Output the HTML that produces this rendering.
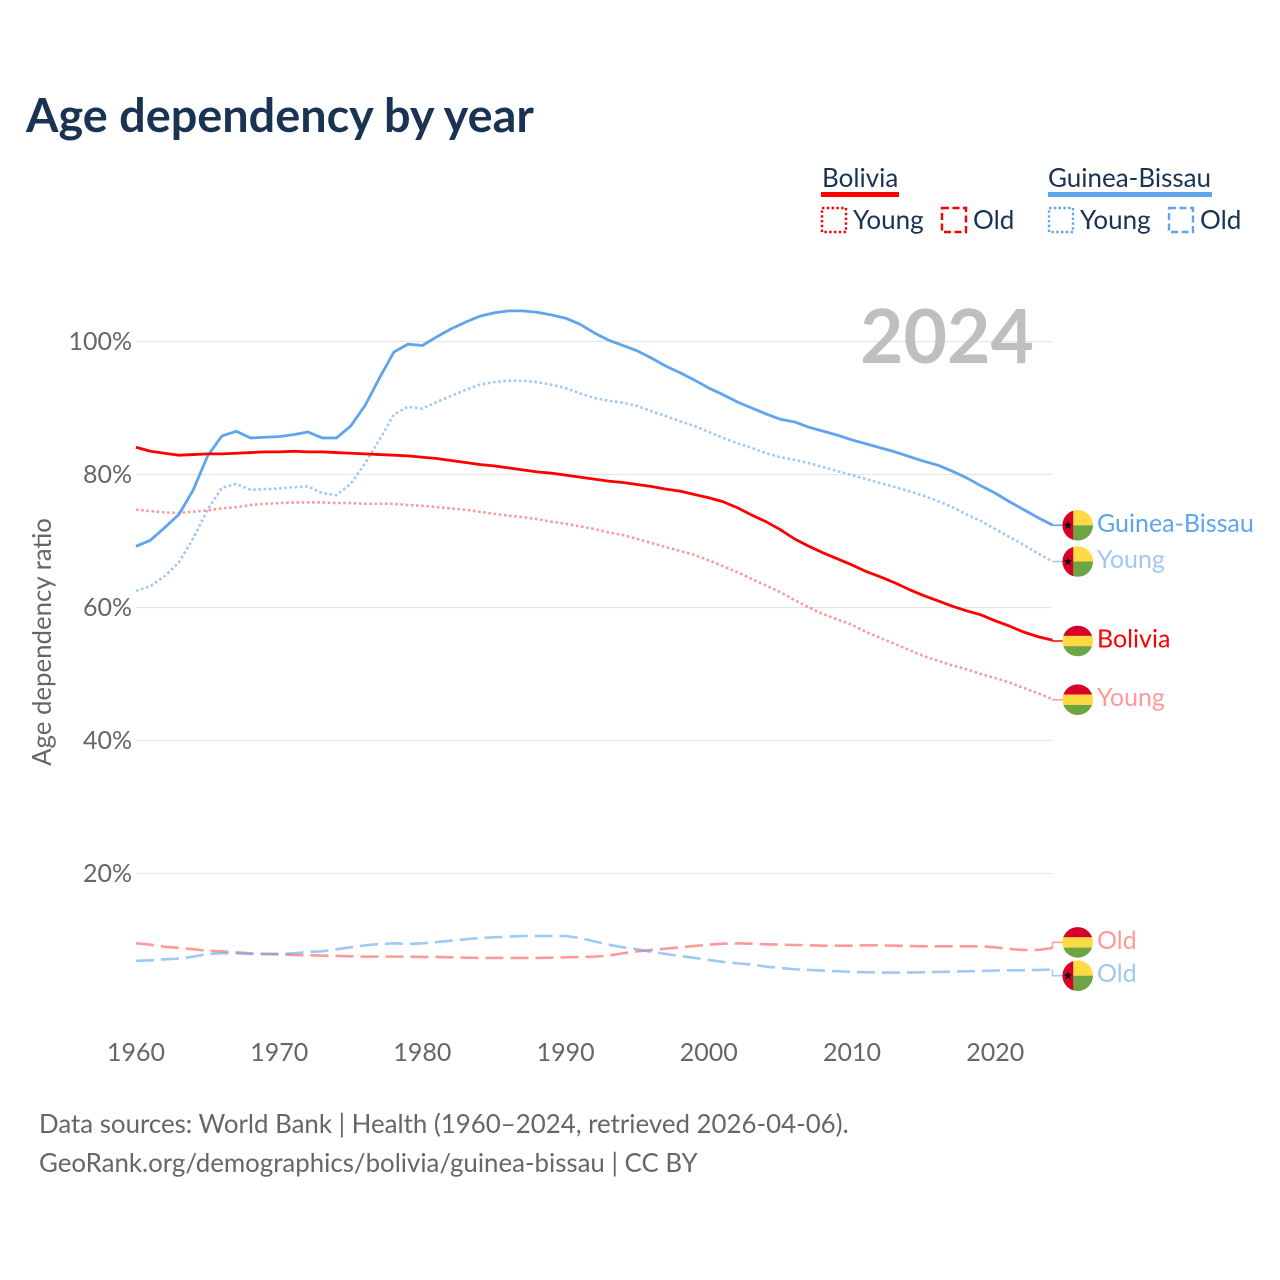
<!DOCTYPE html>
<html lang="en">
<head>
<meta charset="utf-8">
<title>Age dependency by year</title>
<style>
html,body{margin:0;padding:0;background:#fff;width:1280px;height:1280px;overflow:hidden}
svg{display:block;position:absolute;left:0;top:0}
text{font-family:"Lato","Carlito","Liberation Sans",sans-serif}
.t{position:absolute;white-space:nowrap;font-family:"Lato","Carlito","Liberation Sans",sans-serif;line-height:1.2;font-size:26px;color:#1a3353}
.g{color:#666666;font-size:25.85px}
</style>
</head>
<body>
<svg id="chart" xmlns="http://www.w3.org/2000/svg" width="1280" height="1280" viewBox="0 0 1280 1280">
  <g>
    <rect x="821" y="192" width="78" height="5" fill="#ff0000"/>
    <rect x="822" y="208" width="24" height="24" fill="none" stroke="#ff0000" stroke-width="2.4" stroke-dasharray="2.4 2.4"/>
    <rect x="942" y="208" width="24" height="24" fill="none" stroke="#ff0000" stroke-width="2.4" stroke-dasharray="7 3.5"/>
    <rect x="1048" y="192" width="164" height="5" fill="#5fa5ee"/>
    <rect x="1049" y="208" width="24" height="24" fill="none" stroke="#5fa5ee" stroke-width="2.4" stroke-dasharray="2.4 2.4"/>
    <rect x="1169" y="208" width="24" height="24" fill="none" stroke="#5fa5ee" stroke-width="2.4" stroke-dasharray="7 3.5"/>
  </g>

  <g id="grid"></g>
  <g id="yticks"></g>
  <g id="xticks"></g>

  <text transform="translate(51 642) rotate(-90)" text-anchor="middle" font-size="25.8" fill="#666666">Age dependency ratio</text>

  <text x="860" y="363" font-size="75" font-weight="700" fill="#bfbfbf">2024</text>

  <g id="series"></g>
  <g id="ends"></g>
</svg>

<div class="t" style="left:26px;top:86px;font-size:46.8px;font-weight:700">Age dependency by year</div>
<div class="t" style="left:822px;top:162px">Bolivia</div>
<div class="t" style="left:853px;top:204px">Young</div>
<div class="t" style="left:973px;top:204px">Old</div>
<div class="t" style="left:1048px;top:162px">Guinea-Bissau</div>
<div class="t" style="left:1080px;top:204px">Young</div>
<div class="t" style="left:1200px;top:204px">Old</div>
<div class="t g" style="left:39px;top:1108px">Data sources: World Bank | Health (1960–2024, retrieved 2026-04-06).</div>
<div class="t g" style="left:39px;top:1147px">GeoRank.org/demographics/bolivia/guinea-bissau | CC BY</div>

<script>
const startYear = 1960;
const xTickYears = [1960, 1970, 1980, 1990, 2000, 2010, 2020];
const yTickValues = [20, 40, 60, 80, 100];

const boliviaTotal = [84.1,83.5,83.2,82.9,83.0,83.1,83.1,83.2,83.3,83.4,83.4,83.5,83.4,83.4,83.3,83.2,83.1,83.0,82.9,82.8,82.6,82.4,82.1,81.8,81.5,81.3,81.0,80.7,80.4,80.2,79.9,79.6,79.3,79.0,78.8,78.5,78.2,77.8,77.5,77.0,76.5,75.9,75.0,73.9,72.9,71.7,70.3,69.2,68.2,67.3,66.4,65.4,64.6,63.7,62.7,61.8,61.0,60.2,59.5,58.9,58.0,57.2,56.3,55.6,55.1];
const boliviaYoung = [74.7,74.5,74.3,74.2,74.4,74.6,74.9,75.1,75.4,75.6,75.7,75.8,75.8,75.8,75.7,75.7,75.6,75.6,75.6,75.4,75.3,75.1,74.9,74.7,74.4,74.1,73.8,73.6,73.3,72.9,72.6,72.2,71.8,71.3,70.9,70.3,69.7,69.1,68.5,67.9,67.1,66.2,65.3,64.3,63.3,62.3,61.1,60.0,59.0,58.2,57.4,56.3,55.4,54.5,53.6,52.7,52.0,51.3,50.7,50.0,49.4,48.7,47.9,47.1,46.2];
const boliviaOld = [9.5,9.3,9.0,8.8,8.6,8.4,8.3,8.15,8.0,7.9,7.85,7.75,7.7,7.65,7.6,7.55,7.5,7.5,7.5,7.5,7.45,7.45,7.4,7.35,7.3,7.3,7.3,7.3,7.3,7.35,7.4,7.45,7.5,7.65,8.0,8.3,8.5,8.7,8.9,9.1,9.3,9.45,9.5,9.45,9.35,9.3,9.25,9.2,9.15,9.15,9.15,9.2,9.2,9.15,9.1,9.05,9.05,9.05,9.05,9.05,8.9,8.65,8.5,8.5,8.8];

const guineaTotal = [69.2,70.1,72.0,74.0,77.7,82.8,85.8,86.5,85.5,85.6,85.7,86.0,86.4,85.5,85.5,87.3,90.4,94.5,98.4,99.6,99.4,100.7,101.9,102.9,103.8,104.3,104.6,104.6,104.4,104.0,103.5,102.6,101.3,100.2,99.4,98.6,97.5,96.3,95.3,94.2,93.0,92.0,90.9,90.0,89.1,88.3,87.9,87.1,86.5,85.9,85.2,84.6,84.0,83.4,82.7,82.0,81.4,80.5,79.5,78.3,77.2,75.9,74.7,73.5,72.4];
const guineaYoung = [62.5,63.2,64.7,66.8,70.4,74.7,78.0,78.6,77.7,77.8,77.9,78.1,78.2,77.2,76.9,78.6,81.7,85.2,89.0,90.2,89.9,90.9,91.8,92.7,93.5,93.9,94.1,94.1,93.9,93.5,93.0,92.2,91.5,91.1,90.8,90.3,89.5,88.8,88.0,87.3,86.4,85.5,84.7,84.0,83.2,82.6,82.2,81.7,81.1,80.5,79.9,79.3,78.7,78.1,77.5,76.8,76.0,75.1,74.0,73.0,71.8,70.6,69.4,68.1,66.9];
const guineaOld = [6.85,6.95,7.1,7.2,7.5,7.9,8.0,8.0,7.9,7.9,7.9,8.0,8.2,8.3,8.6,8.9,9.2,9.4,9.5,9.4,9.5,9.7,9.9,10.1,10.3,10.4,10.5,10.6,10.6,10.6,10.6,10.3,9.8,9.3,8.9,8.6,8.2,7.9,7.6,7.3,7.0,6.7,6.5,6.3,6.0,5.8,5.6,5.5,5.4,5.3,5.2,5.15,5.1,5.1,5.1,5.15,5.2,5.25,5.3,5.35,5.4,5.45,5.45,5.5,5.55];

const NS = 'http://www.w3.org/2000/svg';
function xScale(year) { return 136 + (year - 1960) * 14.32; }
function yScale(pct) { return 1006.5 - pct * 6.65; }
function make(tag, attrs, parent) {
  const el = document.createElementNS(NS, tag);
  for (const k in attrs) el.setAttribute(k, attrs[k]);
  parent.appendChild(el);
  return el;
}

const gridG = document.getElementById('grid');
const yG = document.getElementById('yticks');
const xG = document.getElementById('xticks');
const seriesG = document.getElementById('series');
const endsG = document.getElementById('ends');

yTickValues.forEach(function (v) {
  const line = make('line', { x1: 136, x2: 1052, y1: yScale(v), y2: yScale(v), stroke: '#e5e5e5', 'stroke-width': 1.3 }, gridG);
  
  
  const label = make('text', { x: 132, y: yScale(v) + 8.5, 'text-anchor': 'end', 'font-size': 25, fill: '#666666' }, yG);
  
  
  label.textContent = v + '%';
});

xTickYears.forEach(function (yr) {
  const label = make('text', { x: xScale(yr), y: 1061, 'text-anchor': 'middle', 'font-size': 25, fill: '#666666' }, xG);
  
  
  label.textContent = yr;
});

function drawSeries(name, values, color, opacity, dash, width) {
  const d = values.map(function (v, i) {
    return (i ? 'L' : 'M') + xScale(startYear + i).toFixed(2) + ' ' + yScale(v).toFixed(2);
  }).join(' ');
  const path = make('path', { d: d, fill: 'none', stroke: color, 'stroke-opacity': opacity, 'stroke-width': width, 'stroke-dasharray': dash, 'stroke-linejoin': 'round' }, seriesG);
  
  
}

let clipCount = 0;
function drawFlag(country, cy, parent) {
  const cx = 1077.7;
  const id = 'flag-clip-' + (clipCount++);
  const cp = make('clipPath', { id: id }, parent);
  make('circle', { cx: cx, cy: cy, r: 15.3 }, cp);
  const g = make('g', { 'clip-path': 'url(#' + id + ')' }, parent);
  
  
  if (country === 'bolivia') {
    make('rect', { x: cx - 16, y: cy - 16, width: 32, height: 11, fill: '#d80027' }, g);
    make('rect', { x: cx - 16, y: cy - 5.2, width: 32, height: 10.4, fill: '#ffda44' }, g);
    make('rect', { x: cx - 16, y: cy + 5.2, width: 32, height: 11, fill: '#6da544' }, g);
  } else {
    make('rect', { x: cx - 5, y: cy - 16, width: 21, height: 16, fill: '#ffda44' }, g);
    make('rect', { x: cx - 5, y: cy, width: 21, height: 16, fill: '#6da544' }, g);
    make('rect', { x: cx - 16, y: cy - 16, width: 11.5, height: 32, fill: '#d80027' }, g);
    const s = cx - 9.7;
    const t = cy;
    make('polygon', { points: [[0,-4.5],[1.2,-1.4],[4.3,-1.4],[1.8,0.6],[2.7,3.8],[0,2],[-2.7,3.8],[-1.8,0.6],[-4.3,-1.4],[-1.2,-1.4]].map(function (p) { return (s + p[0]) + ',' + (t + p[1]); }).join(' '), fill: '#111111' }, g);
  }
}

function drawEnd(name, country, text, values, color, opacity, labelY) {
  const last = values[values.length - 1];
  const x0 = xScale(startYear + values.length - 1);
  const leader = make('path', { d: 'M' + x0 + ' ' + yScale(last) + ' V' + labelY + ' H1063', fill: 'none', stroke: color, 'stroke-opacity': opacity, 'stroke-width': 1.5 }, endsG);
  
  
  drawFlag(country, labelY, endsG);
  const label = make('text', { x: 1097, y: labelY + 6.5, 'font-size': 25, fill: color, 'fill-opacity': opacity }, endsG);
  
  
  label.textContent = text;
}

const RED = '#ff0000';
const BLUE = '#5fa5ee';
const FADE = 0.4;
const FADE_BLUE = 0.6;

drawSeries('bolivia-old', boliviaOld, RED, FADE, '18 7', 2.6);
drawSeries('guinea-bissau-old', guineaOld, BLUE, FADE_BLUE, '18 7', 2.6);
drawSeries('bolivia-young', boliviaYoung, RED, FADE, '2.6 2.6', 2.6);
drawSeries('guinea-bissau-young', guineaYoung, BLUE, FADE_BLUE, '2.6 2.6', 2.6);
drawSeries('guinea-bissau-total', guineaTotal, BLUE, 1, 'none', 2.8);
drawSeries('bolivia-total', boliviaTotal, RED, 1, 'none', 2.8);

drawEnd('guinea-bissau-total', 'guinea-bissau', 'Guinea-Bissau', guineaTotal, BLUE, 1, 525.3);
drawEnd('guinea-bissau-young', 'guinea-bissau', 'Young', guineaYoung, BLUE, FADE_BLUE, 561.5);
drawEnd('bolivia-total', 'bolivia', 'Bolivia', boliviaTotal, RED, 1, 641);
drawEnd('bolivia-young', 'bolivia', 'Young', boliviaYoung, RED, FADE, 699.7);
drawEnd('bolivia-old', 'bolivia', 'Old', boliviaOld, RED, FADE, 942.4);
drawEnd('guinea-bissau-old', 'guinea-bissau', 'Old', guineaOld, BLUE, FADE_BLUE, 975.7);
</script>
</body>
</html>
